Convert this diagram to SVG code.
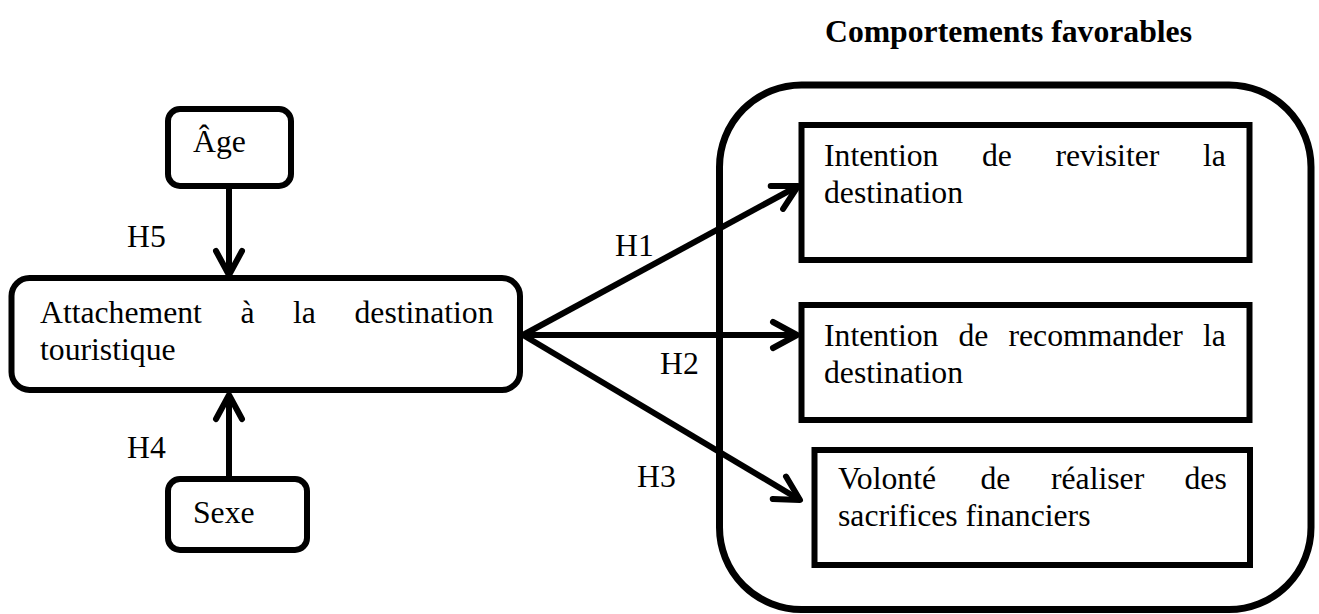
<svg xmlns="http://www.w3.org/2000/svg" width="1319" height="614" viewBox="0 0 1319 614">
<style>
text{font-family:"Liberation Serif","Times New Roman",serif;font-size:31.7px;fill:#000}
.b{font-weight:bold}
.box{fill:#fff;stroke:#000;stroke-width:6}
.ln{fill:none;stroke:#000;stroke-width:6}
</style>
<defs>
<marker id="arr" markerUnits="userSpaceOnUse" viewBox="-32 -20 40 40" refX="0" refY="0" markerWidth="40" markerHeight="40" orient="auto" overflow="visible">
<path d="M-24,-13 L0,0 L-24,13" fill="none" stroke="#000" stroke-width="6" stroke-linecap="round" stroke-linejoin="round"/>
</marker>
</defs>
<rect width="1319" height="614" fill="#fff"/>
<text class="b" x="825" y="42">Comportements favorables</text>
<g id="container">
<rect x="719.5" y="85" width="591.5" height="524.5" rx="82" ry="82" fill="none" stroke="#000" stroke-width="7"/>
</g>
<g id="age">
<rect class="box" x="168" y="109" width="123" height="77" rx="12"/>
<text x="193" y="152">Âge</text>
</g>
<g id="attachement">
<rect class="box" x="11.5" y="278" width="508.5" height="112" rx="18"/>
<text x="40" y="323">Attachement</text>
<text x="240.5" y="323">à</text>
<text x="293" y="323">la</text>
<text x="354.5" y="323">destination</text>
<text x="40" y="360">touristique</text>
</g>
<g id="sexe">
<rect class="box" x="168" y="479" width="139" height="71" rx="12"/>
<text x="193" y="523">Sexe</text>
</g>
<g id="revisiter">
<rect class="box" x="801.5" y="125" width="448" height="135"/>
<text x="824" y="166">Intention</text>
<text x="982" y="166">de</text>
<text x="1055.5" y="166">revisiter</text>
<text x="1203" y="166">la</text>
<text x="824" y="203">destination</text>
</g>
<g id="recommander">
<rect class="box" x="801.5" y="305" width="448" height="115"/>
<text x="824" y="346">Intention</text>
<text x="958.5" y="346">de</text>
<text x="1008.5" y="346">recommander</text>
<text x="1203" y="346">la</text>
<text x="824" y="383">destination</text>
</g>
<g id="sacrifices">
<rect class="box" x="814.5" y="450" width="435.5" height="115"/>
<text x="838" y="489">Volonté</text>
<text x="980.5" y="489">de</text>
<text x="1051" y="489">réaliser</text>
<text x="1184.5" y="489">des</text>
<text x="838" y="526">sacrifices financiers</text>
</g>
<g id="connectors">
<line class="ln" x1="229" y1="189" x2="229" y2="275" marker-end="url(#arr)"/>
<line class="ln" x1="229" y1="476" x2="229" y2="395" marker-end="url(#arr)"/>
<line class="ln" x1="523" y1="335" x2="798" y2="186" marker-end="url(#arr)"/>
<line class="ln" x1="523" y1="335" x2="797" y2="335" marker-end="url(#arr)"/>
<line class="ln" x1="523" y1="335" x2="800" y2="500" marker-end="url(#arr)"/>
<text x="127" y="247">H5</text>
<text x="127" y="458">H4</text>
<text x="615" y="256">H1</text>
<text x="660" y="374">H2</text>
<text x="637" y="487">H3</text>
</g>
</svg>
